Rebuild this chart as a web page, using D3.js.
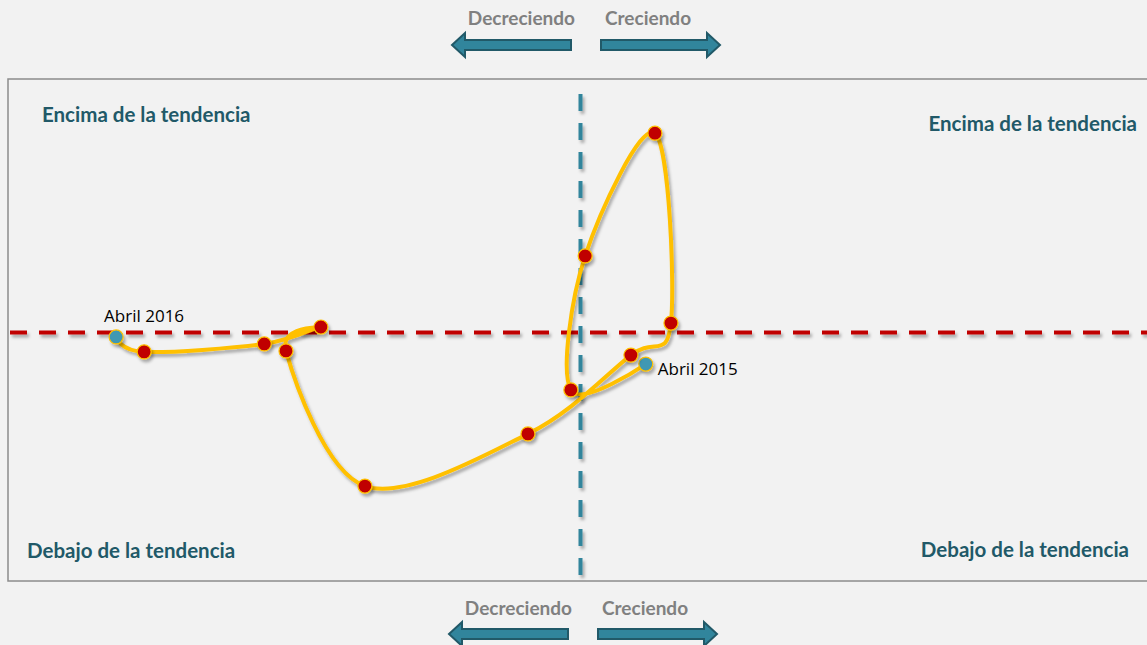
<!DOCTYPE html>
<html>
<head>
<meta charset="utf-8">
<script src="https://cdn.jsdelivr.net/npm/d3@7"></script>
<style>
  html, body { margin: 0; padding: 0; background: #f2f2f2; }
  svg { display: block; }
</style>
</head>
<body>
<div id="chart"></div>
<script>
// data: monthly path, April 2015 -> April 2016
var months = ["Abril 2015", "May 2015", "Jun 2015", "Jul 2015", "Ago 2015", "Sep 2015", "Oct 2015",
              "Nov 2015", "Dic 2015", "Ene 2016", "Feb 2016", "Mar 2016", "Abril 2016"];
// x = change (growing / decreasing), y = deviation from trend
var xValues = [0.115, -0.016, 0.009, 0.131, 0.159, 0.089, -0.091, -0.376, -0.514, -0.453, -0.552, -0.762, -0.811];
var yValues = [-0.127, -0.231, 0.308, 0.802, 0.038, -0.091, -0.408, -0.618, -0.074, 0.022, -0.046, -0.078, -0.018];
var labelledMonths = ["Abril 2015", "Abril 2016"];

var quadrantLabels = ["Encima de la tendencia", "Encima de la tendencia", "Debajo de la tendencia", "Debajo de la tendencia"];
var directionLabels = ["Decreciendo", "Creciendo"];

var svgWidth = 1147;
var svgHeight = 645;
var plot = {left: 8, top: 79, right: 1152, bottom: 581};

var svg = d3.select("#chart").append("svg")
    .attr("width", svgWidth)
    .attr("height", svgHeight);

// soft shadow like the office chart (user space so flat lines keep it)
var defs = svg.append("defs");
var f = defs.append("filter").attr("id", "shadow")
    .attr("filterUnits", "userSpaceOnUse")
    .attr("x", 0).attr("y", 0).attr("width", svgWidth).attr("height", svgHeight);
f.append("feDropShadow")
    .attr("dx", 2).attr("dy", 3).attr("stdDeviation", 1.6)
    .attr("flood-color", "#000").attr("flood-opacity", 0.3);

var data = months.map(function(m, i) {
    return {month: m, x: xValues[i], y: yValues[i]};
});

var xScale = d3.scaleLinear().domain([-1, 1]).range([plot.left, plot.right]);
var yScale = d3.scaleLinear().domain([-1, 1.02]).range([plot.bottom, plot.top]);

// frame
svg.append("rect")
    .attr("x", plot.left)
    .attr("y", plot.top)
    .attr("width", plot.right - plot.left)
    .attr("height", plot.bottom - plot.top)
    .attr("fill", "#f2f2f2")
    .attr("stroke", "#8c8c8c")
    .attr("stroke-width", 1.5);

// trend line (y = 0)
svg.append("line")
    .attr("x1", plot.left + 2).attr("x2", svgWidth)
    .attr("y1", yScale(0)).attr("y2", yScale(0))
    .attr("stroke", "#c00000")
    .attr("stroke-width", 4)
    .attr("stroke-dasharray", "17,12")
    .attr("filter", "url(#shadow)");

// growth divider (x = 0)
svg.append("line")
    .attr("x1", xScale(0) + 0.5).attr("x2", xScale(0) + 0.5)
    .attr("y1", plot.top + 15).attr("y2", plot.bottom)
    .attr("stroke", "#31859c")
    .attr("stroke-width", 4)
    .attr("stroke-dasharray", "17,12")
    .attr("filter", "url(#shadow)");

// path
var line = d3.line()
    .x(function(d) { return xScale(d.x); })
    .y(function(d) { return yScale(d.y); })
    .curve(d3.curveCatmullRom.alpha(0));

svg.append("path")
    .datum(data)
    .attr("d", line)
    .attr("fill", "none")
    .attr("stroke", "#ffc000")
    .attr("stroke-width", 4)
    .attr("filter", "url(#shadow)");

svg.selectAll("circle.pt")
    .data(data)
    .enter()
    .append("circle")
    .attr("class", "pt")
    .attr("cx", function(d) { return xScale(d.x); })
    .attr("cy", function(d) { return yScale(d.y); })
    .attr("r", 7)
    .attr("fill", function(d) {
        return labelledMonths.indexOf(d.month) >= 0 ? "#4198b3" : "#c00000";
    })
    .attr("stroke", "#ffc000")
    .attr("stroke-width", 1.2)
    .attr("filter", "url(#shadow)");

// month labels for first and last point
var first = data[0], last = data[data.length - 1];
svg.append("text")
    .attr("x", xScale(first.x) + 12)
    .attr("y", yScale(first.y) + 11)
    .style("font", "17px 'Open Sans', sans-serif")
    .attr("fill", "#000")
    .text(first.month);
svg.append("text")
    .attr("x", xScale(last.x) - 12)
    .attr("y", yScale(last.y) - 15)
    .style("font", "17px 'Open Sans', sans-serif")
    .attr("fill", "#000")
    .text(last.month);

// quadrant captions
var quad = [
    {x: 42, y: 122, anchor: "start"},
    {x: 1137, y: 131, anchor: "end"},
    {x: 27, y: 558, anchor: "start"},
    {x: 1129, y: 557, anchor: "end"}
];
svg.selectAll("text.quad")
    .data(quadrantLabels)
    .enter()
    .append("text")
    .attr("class", "quad")
    .attr("x", function(d, i) { return quad[i].x; })
    .attr("y", function(d, i) { return quad[i].y; })
    .attr("text-anchor", function(d, i) { return quad[i].anchor; })
    .style("font", "bold 20.5px Lato, sans-serif")
    .attr("fill", "#215968")
    .text(function(d) { return d; });

// direction arrows, above and below the frame
function arrowPath(x0, x1, cy, dir) {
    // dir: -1 points left, 1 points right
    var sh = 5, hh = 12, hl = 13;
    if (dir < 0) {
        return "M" + x0 + "," + cy +
            "L" + (x0 + hl) + "," + (cy - hh) +
            "L" + (x0 + hl) + "," + (cy - sh) +
            "L" + x1 + "," + (cy - sh) +
            "L" + x1 + "," + (cy + sh) +
            "L" + (x0 + hl) + "," + (cy + sh) +
            "L" + (x0 + hl) + "," + (cy + hh) + "Z";
    }
    return "M" + x1 + "," + cy +
        "L" + (x1 - hl) + "," + (cy - hh) +
        "L" + (x1 - hl) + "," + (cy - sh) +
        "L" + x0 + "," + (cy - sh) +
        "L" + x0 + "," + (cy + sh) +
        "L" + (x1 - hl) + "," + (cy + sh) +
        "L" + (x1 - hl) + "," + (cy + hh) + "Z";
}

var arrowSets = [
    {cx: xScale(0) - 5, ty: 25, ay: 45},
    {cx: xScale(0) - 8, ty: 615, ay: 634}
];
arrowSets.forEach(function(a) {
    svg.append("text")
        .attr("x", a.cx).attr("y", a.ty)
        .attr("text-anchor", "end")
        .style("font", "bold 19px Lato, sans-serif")
        .attr("fill", "#808080")
        .text(directionLabels[0]);
    svg.append("text")
        .attr("x", a.cx + 30).attr("y", a.ty)
        .attr("text-anchor", "start")
        .style("font", "bold 19px Lato, sans-serif")
        .attr("fill", "#808080")
        .text(directionLabels[1]);
    svg.append("path")
        .attr("d", arrowPath(a.cx - 123, a.cx - 4, a.ay, -1))
        .attr("fill", "#31859c")
        .attr("stroke", "#215968")
        .attr("stroke-width", 2);
    svg.append("path")
        .attr("d", arrowPath(a.cx + 26, a.cx + 145, a.ay, 1))
        .attr("fill", "#31859c")
        .attr("stroke", "#215968")
        .attr("stroke-width", 2);
});
</script>
</body>
</html>
